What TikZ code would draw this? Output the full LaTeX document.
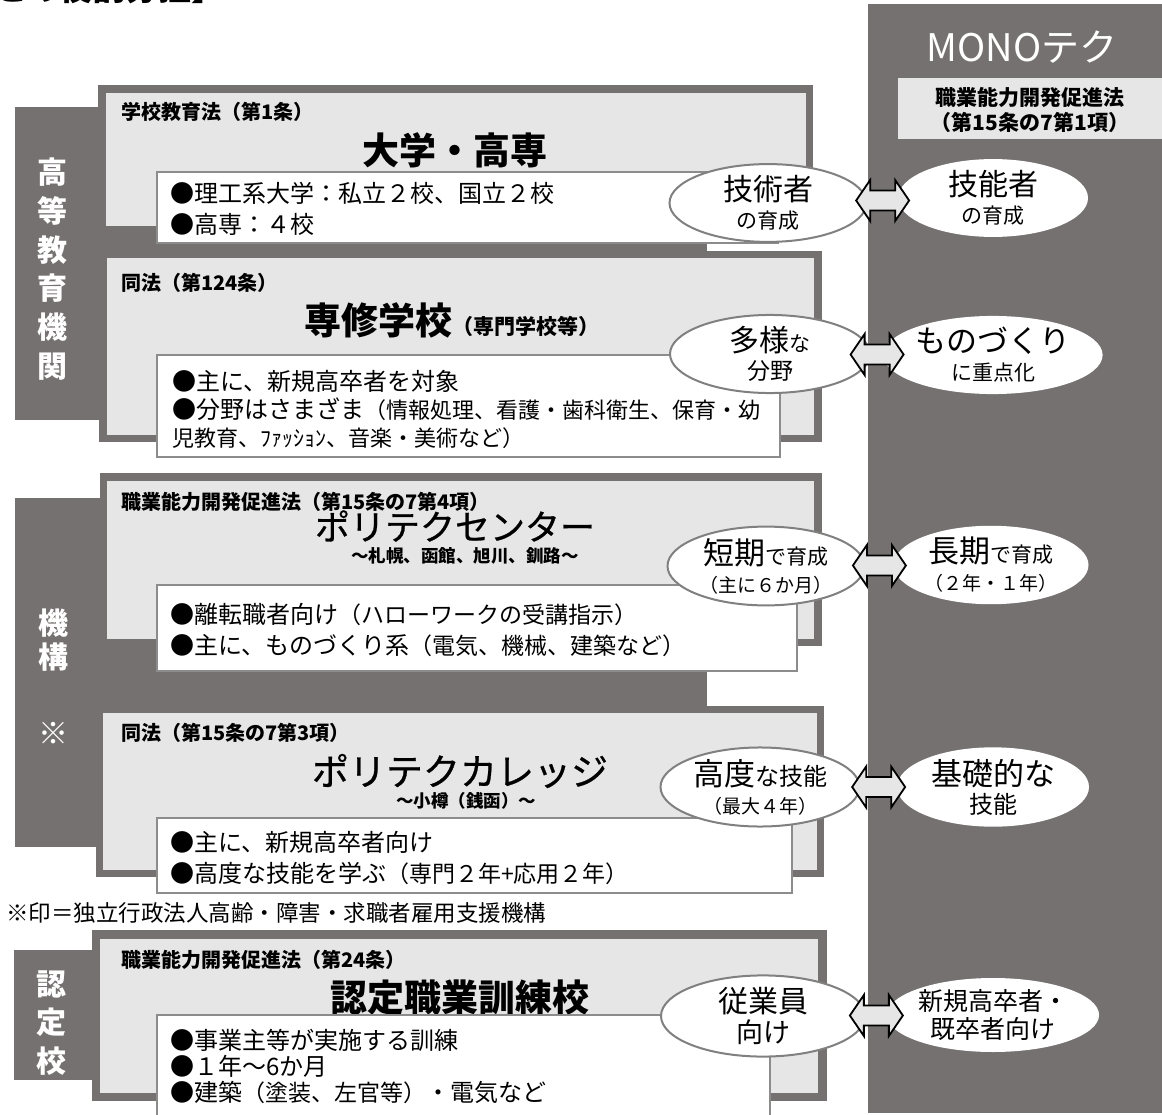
\documentclass[tikz,border=0pt]{standalone}
\usepackage{fontspec}
\setmainfont{Noto Sans CJK JP}
\newfontfamily\medfont{Noto Sans CJK JP}[FakeBold=0.7]
\usetikzlibrary{shapes.geometric,calc}
\definecolor{dk}{HTML}{767171}
\definecolor{lt}{HTML}{E7E6E6}
\definecolor{eg}{HTML}{808080}
\definecolor{bx}{HTML}{8C8C8C}
\newcommand\fsz[1]{\fontsize{#1}{#1}\selectfont}
\tikzset{
 wbox/.style={draw=bx, line width=1.3pt, fill=white},
 lbl/.style={anchor=west, font=\bfseries\fsz{20}, inner sep=0},
 ttl/.style={font=\bfseries\fontsize{37}{37}\selectfont, inner sep=0},
 bul/.style={anchor=west, font=\fsz{24}, inner sep=0},
 lell/.style={ellipse, draw=eg, line width=2pt, fill=white, inner sep=0, align=center, font=\fontsize{21}{28}\selectfont},
 rell/.style={ellipse, fill=white, inner sep=0, align=center, font=\fontsize{21}{28}\selectfont},
 dbl/.style={draw=black, line width=1.8pt, fill=lt, line join=miter},
 side/.style={text=white, align=center, inner sep=0},
}
\begin{document}
\begin{tikzpicture}[x=1pt,y=-1pt]
\useasboundingbox (0,0) rectangle (1162,1115);
\begin{scope}
\clip (0,0) rectangle (1162,1115);
\node[anchor=base west, font=\bfseries\fsz{33}, inner sep=0] (title) at (-6,1) {との役割分担】};
\end{scope}

% right column
\fill[dk] (868,4) rectangle (1162,1113);
\fill[lt] (898,78) rectangle (1162,139);
\node[text=white, font=\fsz{38}, inner sep=0] (mono) at (1022,47) {MONOテク};
\node[font=\bfseries\fontsize{21}{25}\selectfont, align=center, inner sep=0] (law) at (1030,110) {職業能力開発促進法\\（第15条の7第1項）};

% group 1
\fill[dk] (15,107) rectangle (707,420);
\fill[dk] (98,85) rectangle (813,233);
\fill[lt] (106,93) rectangle (806,226);
\fill[dk] (99,251) rectangle (822,442);
\fill[lt] (107,258) rectangle (814,435);
\node[side, font=\bfseries\fontsize{30}{38.8}\selectfont] (g1) at (52,269) {高\\等\\教\\育\\機\\関};

\node[lbl] (l1) at (121,112) {学校教育法（第1条）};
\node[ttl] (t1) at (455,150) {大学・高専};
\draw[wbox] (157,172) rectangle (778,243);
\node[bul] (b11) at (170,193) {●理工系大学：私立２校、国立２校};
\node[bul] (b12) at (170,224) {●高専：４校};

\node[lbl] (l2) at (121,283) {同法（第124条）};
\node[ttl] (t2) at (452,320) {専修学校{\fsz{21}（専門学校等）}};
\draw[wbox] (157,355) rectangle (780,457);
\node[bul] (b21) at (172,381) {●主に、新規高卒者を対象};
\node[bul] (b22) at (172,409) {●分野はさまざま{\fsz{22}（情報処理、看護・歯科衛生、保育・幼}};
\node[bul, font=\fsz{22}] (b23) at (172,438) {児教育、ﾌｧｯｼｮﾝ、音楽・美術など）};

% group 2
\fill[dk] (15,498) rectangle (707,847);
\fill[dk] (100,473) rectangle (822,646);
\fill[lt] (107,481) rectangle (814,639);
\fill[dk] (96,706) rectangle (824,877);
\fill[lt] (103,713) rectangle (817,870);
\node[side, font=\bfseries\fontsize{30}{34}\selectfont] (g2) at (53,640) {機\\構};
\node[side, font=\bfseries\fsz{30}] (g2b) at (53,733) {※};

\node[lbl] (l3) at (121,502) {職業能力開発促進法（第15条の7第4項）};
\node[font=\medfont\fsz{35}, inner sep=0] (t3) at (455,526) {ポリテクセンター};
\node[font=\bfseries\fsz{17.5}, inner sep=0] (s3) at (465,556) {～札幌、函館、旭川、釧路～};
\draw[wbox] (157,585) rectangle (797,671);
\node[bul] (b31) at (170,614) {●離転職者向け{\fsz{23}（ハローワークの受講指示）}};
\node[bul] (b32) at (170,646) {●主に、ものづくり系{\fsz{23}（電気、機械、建築など）}};

\node[lbl] (l4) at (121,733) {同法（第15条の7第3項）};
\node[font=\medfont\fsz{37}, inner sep=0] (t4) at (460,771) {ポリテクカレッジ};
\node[font=\bfseries\fsz{17.5}, inner sep=0] (s4) at (466,801) {～小樽（銭函）～};
\draw[wbox] (157,818) rectangle (792,893);
\node[bul] (b41) at (170,842) {●主に、新規高卒者向け};
\node[bul] (b42) at (170,873) {●高度な技能を学ぶ{\fsz{23}（専門２年+応用２年）}};

\node[anchor=west, font=\fsz{22.5}, inner sep=0] (note) at (6,913) {※印＝独立行政法人高齢・障害・求職者雇用支援機構};

% group 3
\fill[dk] (14,950) rectangle (707,1080);
\fill[dk] (92,930) rectangle (827,1101);
\fill[lt] (100,939) rectangle (818,1093);
\node[side, font=\bfseries\fontsize{30}{38.5}\selectfont] (g3) at (51,1023) {認\\定\\校};
\node[lbl] (l5) at (121,960) {職業能力開発促進法（第24条）};
\node[ttl] (t5) at (460,998) {認定職業訓練校};
\draw[wbox] (157,1015) rectangle (770,1125);
\node[bul] (b51) at (170,1040) {●事業主等が実施する訓練};
\node[bul] (b52) at (170,1066) {●１年～6か月};
\node[bul] (b53) at (170,1092) {●建築{\fsz{23}（塗装、左官等）}・電気など};

% ellipses left
\node[lell, minimum width=197, minimum height=77] (e1) at (768,203) {{\fsz{30}技術者}\\の育成};
\node[lell, minimum width=200, minimum height=74] (e2) at (770,354) {{\fsz{30}多様}な\\{\fsz{23}分野}};
\node[lell, minimum width=197, minimum height=77] (e3) at (766,566) {{\fsz{31}短期}で育成\\{\fsz{19}（主に６か月）}};
\node[lell, minimum width=199, minimum height=68] (e4) at (760,787) {{\fsz{31}高度}{\fsz{24}な技能}\\{\fsz{19}（最大４年）}};
\node[lell, minimum width=204, minimum height=74, font=\fontsize{27}{30}\selectfont] (e5) at (763,1016) {{\fsz{30}従業員}\\向け};

% ellipses right
\node[rell, minimum width=190, minimum height=68] (f1) at (993,198) {{\fsz{30}技能者}\\の育成};
\node[rell, minimum width=190, minimum height=74] (f2) at (993,355) {{\fsz{31}ものづくり}\\に重点化};
\node[rell, minimum width=195, minimum height=74] (f3) at (991,565) {{\fsz{31}長期}で育成\\{\fsz{19}（２年・１年）}};
\node[rell, minimum width=192, minimum height=68] (f4) at (993,787) {{\fsz{31}基礎的な}\\{\fsz{24}技能}};
\node[rell, minimum width=190, minimum height=74, font=\fontsize{25}{28}\selectfont] (f5) at (993,1015) {新規高卒者・\\既卒者向け};

% double arrows
\foreach \i in {1,...,5}{
 \coordinate (m\i) at ($(e\i.east)!0.5!(f\i.west)$);
 \draw[dbl] ([xshift=-26.5pt]m\i) -- ++(14,-20.5) -- ++(0,10.5) -- ++(25,0) -- ++(0,-10.5) -- ++(14,20.5) -- ++(-14,20.5) -- ++(0,-10.5) -- ++(-25,0) -- ++(0,10.5) -- cycle;
}
\end{tikzpicture}
\end{document}
